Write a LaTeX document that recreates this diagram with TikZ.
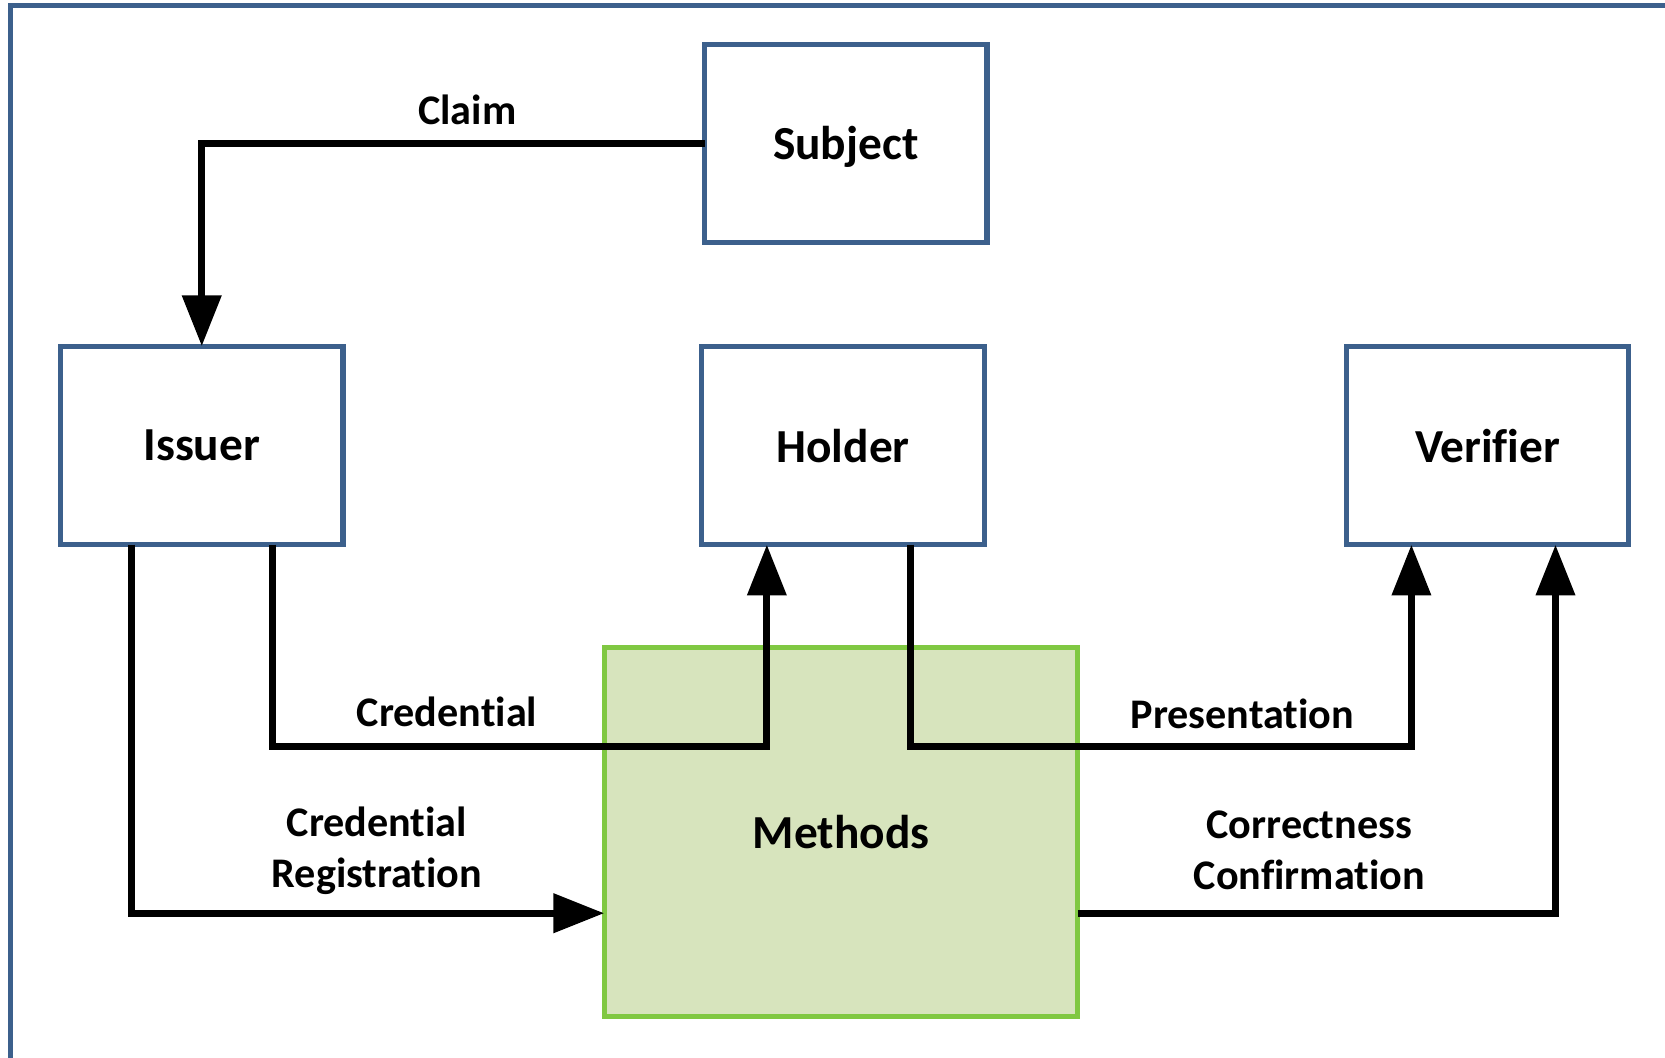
\documentclass[tikz,border=0pt]{standalone}
\usepackage{fontspec}
\setmainfont{Carlito}[Ligatures=NoCommon]
\usetikzlibrary{arrows.meta, calc}
\definecolor{boxblue}{RGB}{60,96,140}
\definecolor{methgreen}{RGB}{128,200,66}
\definecolor{methfill}{RGB}{215,228,189}
\tikzset{
box/.style={%
    rectangle,
    draw=boxblue,
    line width=1.35pt,
    outer sep=0pt,
    text depth=0pt,
    minimum width=2.66cm,
    minimum height=1.87cm,
    % Font
    font=\bfseries\fontsize{12.7}{15}\selectfont
},
methodbox/.style={%
    box, draw=methgreen, fill=methfill,
    minimum width=4.46cm, minimum height=3.47cm
},
lbl/.style={align=center, font=\bfseries\fontsize{11.3}{13.7}\selectfont},
}

\begin{document}
\begin{tikzpicture}[->, >={Triangle[length=13.6pt,width=10.2pt]}, line width=1.9pt]
				\useasboundingbox (0,0) rectangle (15.68,-9.96);
				\clip (0,0) rectangle (15.68,-9.96);
				\draw[-, boxblue, line width=1.35pt] (0.10,-0.05) rectangle (16.5,-10.5);

				\node[box] at (7.965,-1.35) (subject) {Subject};
				\node[box] at (1.90,-4.195) (issuer) {Issuer};
				\node[box] at (7.94,-4.195) (holder) {Holder};
				\node[box] at (14.01,-4.195) (verifier) {Verifier};
				\node[methodbox] at (7.92,-7.835) (methods) {Methods};

				\coordinate (issuer-l) at ($(issuer.south west)!0.25!(issuer.south east)$);
				\coordinate (issuer-r) at ($(issuer.south west)!0.75!(issuer.south east)$);
				\coordinate (holder-l) at ($(holder.south west)!0.23!(holder.south east)$);
				\coordinate (holder-r) at ($(holder.south west)!0.74!(holder.south east)$);
				\coordinate (verifier-l) at ($(verifier.south west)!0.23!(verifier.south east)$);
				\coordinate (verifier-r) at ($(verifier.south west)!0.74!(verifier.south east)$);

				\draw (subject.west) -| (issuer.north);
				\draw (issuer-r) -- ++(0,-1.90) -| (holder-l);
				\draw (issuer-l) |- ([yshift=-0.765cm]methods.west);
				\draw (holder-r) -- ++(0,-1.90) -| (verifier-l);
				\draw ([yshift=-0.765cm]methods.east) -| (verifier-r);

				\node[lbl] at (4.40,-1.03) (claim) {Claim};
				\node[lbl] at (4.21,-6.70) (credential) {Credential};
				\node[lbl] at (3.55,-8.01) (registration) {Credential\\Registration};
				\node[lbl] at (11.70,-6.72) (presentation) {Presentation};
				\node[lbl] at (12.33,-8.01) (confirmation) {Correctness\\Confirmation};

			\end{tikzpicture}
\end{document}
